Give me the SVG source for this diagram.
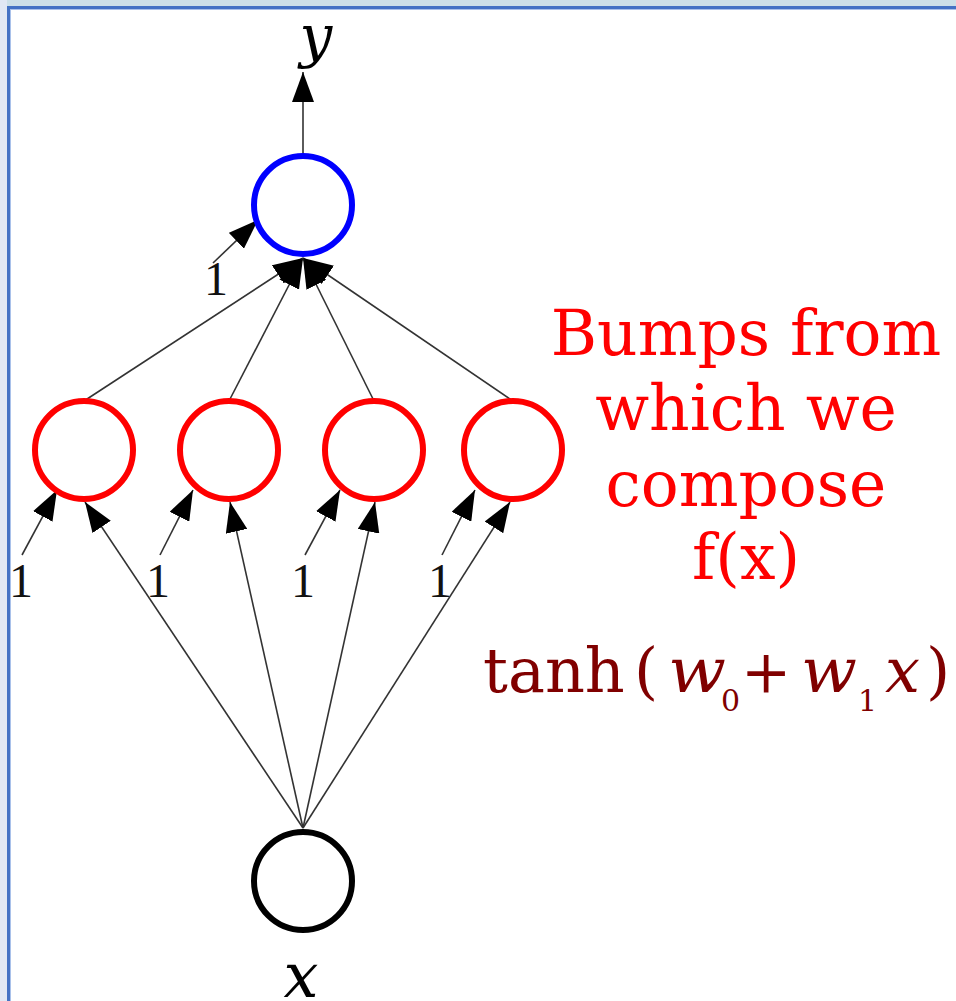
<svg xmlns="http://www.w3.org/2000/svg" width="956" height="1001" viewBox="0 0 956 1001">
<style>
.node{fill:none;stroke-width:6}
.e{stroke:#333;stroke-width:1.6;fill:none;marker-end:url(#ah)}
.lbl{font-family:"DejaVu Serif","Liberation Serif",serif}
.one{font-family:"Liberation Serif","DejaVu Serif",serif;font-size:48px;fill:#111;text-anchor:middle}
.red{font-family:"DejaVu Serif","Liberation Serif",serif;font-size:63px;fill:#ff0000;text-anchor:middle}
.f{font-family:"DejaVu Serif","Liberation Serif",serif;fill:#800000}
</style>
<defs>
<marker id="ah" markerUnits="userSpaceOnUse" markerWidth="30" markerHeight="22" refX="30" refY="11" orient="auto">
<path d="M0,0 L30,11 L0,22 z" fill="#000"/>
</marker>
</defs>
<rect x="0" y="0" width="956" height="1001" fill="#fff"/>
<rect x="0" y="0" width="956" height="6" fill="#cde0e8"/>
<rect x="0" y="0" width="7" height="1001" fill="#e1e8f4"/>
<rect x="7" y="6" width="949" height="3" fill="#4472c4"/>
<rect x="7" y="6" width="3" height="995" fill="#4472c4"/>
<rect x="10" y="9" width="946" height="1" fill="#a9c1ea"/>
<rect x="10" y="9" width="1" height="992" fill="#a9c1ea"/>
<g id="connectors">
<line class="e" x1="303" y1="154" x2="303" y2="72"/>
<line class="e" x1="84" y1="401" x2="303" y2="258"/>
<line class="e" x1="229" y1="401" x2="303" y2="258"/>
<line class="e" x1="374" y1="401" x2="303" y2="258"/>
<line class="e" x1="513" y1="401" x2="303" y2="258"/>
<line class="e" x1="213" y1="263" x2="258" y2="220"/>
<line class="e" x1="303" y1="828" x2="85" y2="502"/>
<line class="e" x1="303" y1="828" x2="230" y2="502"/>
<line class="e" x1="303" y1="828" x2="375" y2="502"/>
<line class="e" x1="303" y1="828" x2="510" y2="502"/>
<line class="e" x1="22" y1="555" x2="57" y2="490"/>
<line class="e" x1="160" y1="555" x2="193" y2="490"/>
<line class="e" x1="305" y1="555" x2="340" y2="490"/>
<line class="e" x1="442" y1="555" x2="475" y2="490"/>
</g>
<g id="out">
<circle class="node" cx="303" cy="205" r="49" stroke="#0000ff"/>
</g>
<g id="h1"><circle class="node" cx="84" cy="450" r="49" stroke="#ff0000"/></g>
<g id="h2"><circle class="node" cx="229" cy="450" r="49" stroke="#ff0000"/></g>
<g id="h3"><circle class="node" cx="374" cy="450" r="49" stroke="#ff0000"/></g>
<g id="h4"><circle class="node" cx="513" cy="450" r="49" stroke="#ff0000"/></g>
<g id="in">
<circle class="node" cx="303" cy="881" r="49" stroke="#000" stroke-width="5.5"/>
</g>
<g id="labels">
<text class="lbl" x="316" y="56" font-size="58" font-style="italic" text-anchor="middle" fill="#000">y</text>
<text class="lbl" x="301" y="997" font-size="62" font-style="italic" text-anchor="middle" fill="#000">x</text>
<text class="one" x="216" y="295">1</text>
<text class="one" x="21" y="597">1</text>
<text class="one" x="158" y="597">1</text>
<text class="one" x="303" y="597">1</text>
<text class="one" x="440" y="597">1</text>
</g>
<g id="caption">
<text class="red" x="746" y="355">Bumps from</text>
<text class="red" x="746" y="430">which we</text>
<text class="red" x="746" y="506">compose</text>
<text class="red" x="746" y="579">f(x)</text>
</g>
<g id="formula">
<text class="f" x="483" y="692" font-size="62">tanh</text>
<text class="f" x="634" y="692" font-size="62">(</text>
<text class="f" x="668" y="692" font-size="62" font-style="italic" textLength="58" lengthAdjust="spacingAndGlyphs">w</text>
<text class="f" x="721" y="711" font-size="30">0</text>
<text class="f" x="741" y="692" font-size="60">+</text>
<text class="f" x="801" y="692" font-size="62" font-style="italic" textLength="56" lengthAdjust="spacingAndGlyphs">w</text>
<text class="f" x="858" y="711" font-size="30">1</text>
<text class="f" x="885" y="692" font-size="62" font-style="italic">x</text>
<text class="f" x="926" y="692" font-size="62">)</text>
</g>
</svg>
